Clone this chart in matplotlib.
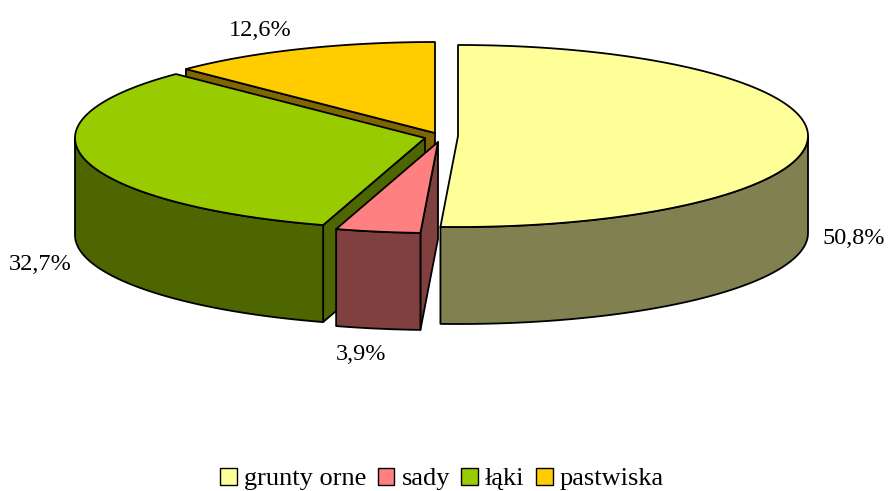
import numpy as np
import matplotlib
matplotlib.use('Agg')
import matplotlib.pyplot as plt
from matplotlib.patches import Patch

plt.rcParams['font.family'] = ['Liberation Serif', 'DejaVu Serif']

# dane
kategorie = ['grunty orne', 'sady', 'łąki', 'pastwiska']
udzialy = [50.8, 3.9, 32.7, 12.6]

# kolory: wierzch i bok
kolor_wierzch = ['#FFFF99', '#FF8080', '#99CC00', '#FFCC00']
kolor_bok = ['#808050', '#804040', '#4D6600', '#806600']

# srodek kazdego wycinka (piksele) i polozenie etykiet
srodek_x = [458, 438, 425, 435]
srodek_y = [136, 142, 138, 133]
etykieta_x = [854, 361, 40, 260]
etykieta_y = [238, 354, 265, 30]

rx = 350
ry = 91
glebokosc = 97
lw = 1.3
rozmiar_etykiet = 17.5
rozmiar_legendy = 19


def punkt(cx, cy, kat):
    # kat liczony od gory zgodnie z ruchem wskazowek zegara
    return cx + rx * np.sin(kat), cy - ry * np.cos(kat)


fig = plt.figure(figsize=(8.88, 4.91), dpi=100)
ax = fig.add_axes([0, 0, 1, 1])
ax.set_xlim(0, 888)
ax.set_ylim(491, 0)
ax.axis('off')

granice = np.radians(np.concatenate([[0], np.cumsum(udzialy)]) / sum(udzialy) * 360)

# rysowanie od tylu do przodu
for i in [3, 2, 1, 0]:
    cx, cy = srodek_x[i], srodek_y[i]
    a0, a1 = granice[i], granice[i + 1]

    # sciana przekroju, widoczna tylko po lewej stronie
    if np.sin(a0) < 0:
        px, py = punkt(cx, cy, a0)
        ax.fill([cx, px, px, cx],
                [cy, py, py + glebokosc, cy + glebokosc],
                facecolor=kolor_bok[i], edgecolor='black', linewidth=lw, joinstyle='round')

    # sciana zewnetrzna, tylko przednia czesc luku
    b0 = max(a0, np.pi / 2)
    b1 = min(a1, 3 * np.pi / 2)
    if b1 > b0:
        t = np.linspace(b0, b1, 150)
        px, py = punkt(cx, cy, t)
        ax.fill(np.concatenate([px, px[::-1]]),
                np.concatenate([py, py[::-1] + glebokosc]),
                facecolor=kolor_bok[i], edgecolor='black', linewidth=lw, joinstyle='round')

    # wierzch wycinka
    t = np.linspace(a0, a1, 300)
    px, py = punkt(cx, cy, t)
    ax.fill(np.concatenate([[cx], px]), np.concatenate([[cy], py]),
            facecolor=kolor_wierzch[i], edgecolor='black', linewidth=lw, joinstyle='round')

for i, v in enumerate(udzialy):
    tekst = f'{v:.1f}%'.replace('.', ',')
    ax.text(etykieta_x[i], etykieta_y[i], tekst, ha='center', va='center',
            fontsize=rozmiar_etykiet, color='black')

uchwyty = [Patch(facecolor=k, edgecolor='black', linewidth=1.0) for k in kolor_wierzch]
ax.legend(uchwyty, kategorie, loc='center', bbox_to_anchor=(442 / 888, 1 - 479 / 491),
          ncol=4, frameon=False, fontsize=rozmiar_legendy, handlelength=0.64, handleheight=0.64,
          handletextpad=0.27, columnspacing=0.42, borderpad=0, labelspacing=0)

fig.savefig('out.png', dpi=100)
